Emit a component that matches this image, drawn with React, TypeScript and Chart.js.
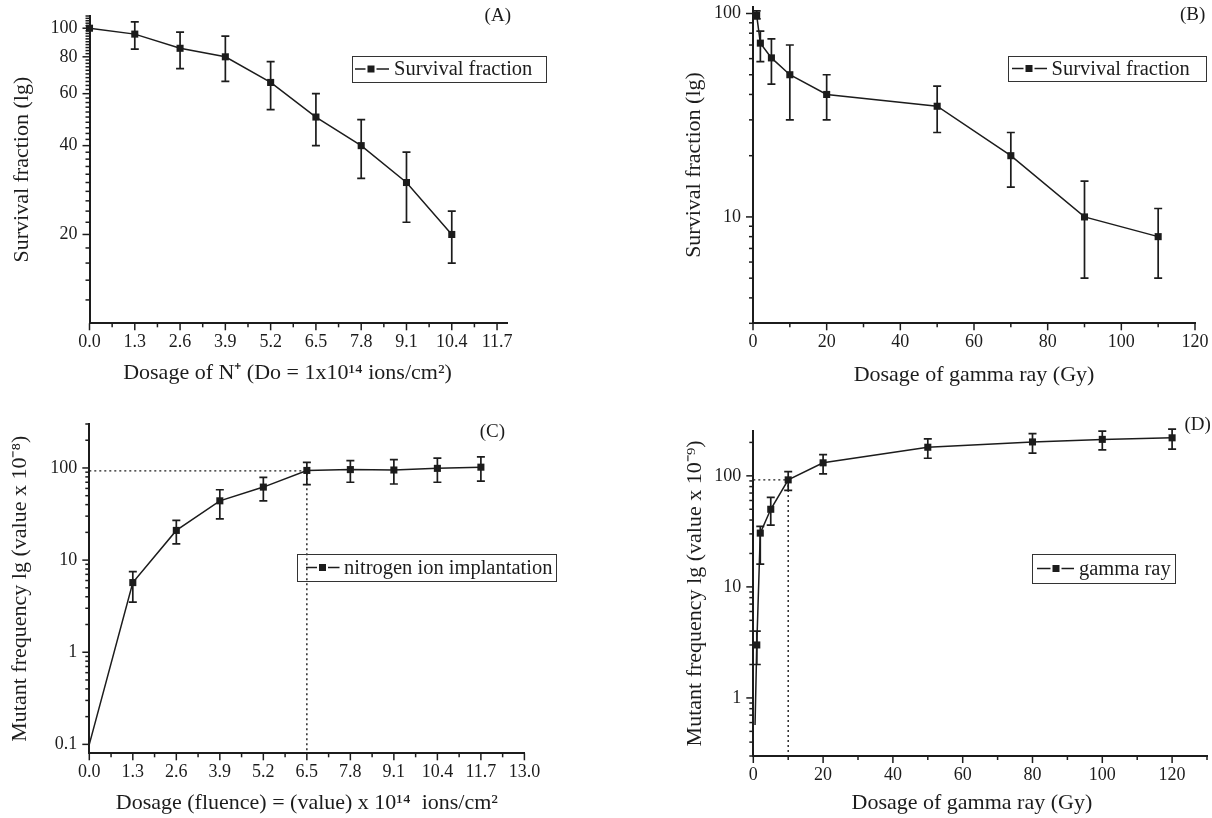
import React, { useEffect, useRef } from "react";
import { Chart, registerables } from "chart.js";

Chart.register(...registerables);

// ---------------- data ----------------
// (A) survival vs N+ dosage
const aDose = [0, 1.3, 2.6, 3.9, 5.2, 6.5, 7.8, 9.1, 10.4];
const aSurvival = [100, 95.5, 85.5, 80, 65.5, 50, 40, 30, 20];
const aSurvivalLow = [null, 85, 73, 66, 53, 40, 31, 22, 16];
const aSurvivalHigh = [null, 105, 97, 94, 77, 60, 49, 38, 24];
const aXTicks = [0, 1.3, 2.6, 3.9, 5.2, 6.5, 7.8, 9.1, 10.4, 11.7];
const aXMinor = [0.65, 1.95, 3.25, 4.55, 5.85, 7.15, 8.45, 9.75, 11.05];
const aYTicks = [20, 40, 60, 80, 100];
const aYMinor = [12, 14, 16, 18, 22, 24, 26, 28, 30, 32, 34, 36, 38, 42, 44, 46, 48, 50, 52, 54, 56, 58, 62, 64, 66, 68, 70, 72, 74, 76, 78, 82, 84, 86, 88, 90, 92, 94, 96, 98, 102, 104, 106, 108, 110];

// (B) survival vs gamma dosage
const bDose = [1, 2, 5, 10, 20, 50, 70, 90, 110];
const bSurvival = [98, 71.5, 60.5, 50, 40, 35, 20, 10, 8];
const bSurvivalLow = [94, 58, 45, 30, 30, 26, 14, 5, 5];
const bSurvivalHigh = [103, 82, 75, 70, 50, 44, 26, 15, 11];
const bXTicks = [0, 20, 40, 60, 80, 100, 120];
const bXMinor = [10, 30, 50, 70, 90, 110];
const bYTicks = [10, 100];
const bYMinor = [3, 4, 5, 6, 7, 8, 9, 20, 30, 40, 50, 60, 70, 80, 90];

// (C) mutant frequency vs N+ fluence
const cDose = [0, 1.3, 2.6, 3.9, 5.2, 6.5, 7.8, 9.1, 10.4, 11.7];
const cMutant = [0.1, 5.7, 21, 44, 62, 94, 96, 95, 99, 102];
const cMutantLow = [null, 3.5, 15, 28, 44, 66, 70, 67, 70, 72];
const cMutantHigh = [null, 7.5, 27, 58, 79, 115, 120, 123, 128, 132];
const cXTicks = [0, 1.3, 2.6, 3.9, 5.2, 6.5, 7.8, 9.1, 10.4, 11.7, 13.0];
const cXMinor = [0.65, 1.95, 3.25, 4.55, 5.85, 7.15, 8.45, 9.75, 11.05, 12.35];
const cYTicks = [0.1, 1, 10, 100];
const cYMinor = [0.2, 0.3, 0.4, 0.5, 0.6, 0.7, 0.8, 0.9, 2, 3, 4, 5, 6, 7, 8, 9, 20, 30, 40, 50, 60, 70, 80, 90, 200, 300];
const cGuide = { x: 6.5, y: 93 };

// (D) mutant frequency vs gamma dosage
const dDose = [0.5, 1, 2, 5, 10, 20, 50, 80, 100, 120];
const dMutant = [0.57, 3.0, 30.5, 50, 92, 131, 181, 202, 213, 220];
const dMutantLow = [null, 2.0, 16, 36, 74, 104, 144, 160, 171, 174];
const dMutantHigh = [null, 4.0, 35, 64, 109, 155, 215, 240, 253, 264];
const dXTicks = [0, 20, 40, 60, 80, 100, 120];
const dXMinor = [10, 30, 50, 70, 90, 110, 130];
const dYTicks = [1, 10, 100];
const dYMinor = [0.3, 0.4, 0.5, 0.6, 0.7, 0.8, 0.9, 2, 3, 4, 5, 6, 7, 8, 9, 20, 30, 40, 50, 60, 70, 80, 90, 200];
const dGuide = { x: 10, y: 92 };

// ---------------- style ----------------
const INK = "#1c1c1c";
const FAMILY = '"Liberation Serif", "Times New Roman", Times, serif';
const TICK_SIZE = 18;
const TITLE_SIZE = 22;
const LEGEND_SIZE = 20.5;
const TAG_SIZE = 19;

type Panel = {
  canvasBox: [number, number, number, number];
  area: [number, number, number, number];
  xRange: [number, number];
  yRange: [number, number];
  xTicks: number[];
  xMinor: number[];
  yTicks: number[];
  yMinor: number[];
  xDigits: number;
  xTitle: string;
  yTitle: string;
  xTitleY: number;
  yTitleX: number;
  xs: number[];
  ys: number[];
  lo: (number | null)[];
  hi: (number | null)[];
  hidden: number[];
  guide: { x: number; y: number } | null;
  legendBox: [number, number, number, number];
  legendSample: [number, number, number];
  legendTextX: number;
  legendText: string;
  tag: string;
  tagPos: [number, number];
};

const panels: Panel[] = [
  {
    canvasBox: [0, 0, 606, 402],
    area: [89.5, 16, 507.5, 323.3],
    xRange: [0, 12],
    yRange: [10, 110],
    xTicks: aXTicks,
    xMinor: aXMinor,
    yTicks: aYTicks,
    yMinor: aYMinor,
    xDigits: 1,
    xTitle: "Dosage of N\u207A (Do = 1x10\u00B9\u2074 ions/cm\u00B2)    ",
    yTitle: "Survival fraction (lg)",
    xTitleY: 373,
    yTitleX: 22.5,
    xs: aDose,
    ys: aSurvival,
    lo: aSurvivalLow,
    hi: aSurvivalHigh,
    hidden: [],
    guide: null,
    legendBox: [352, 56, 546, 82],
    legendSample: [355, 371, 389],
    legendTextX: 394,
    legendText: "Survival fraction",
    tag: "(A)",
    tagPos: [497.8, 16],
  },
  {
    canvasBox: [606, 0, 606, 402],
    area: [753, 6.7, 1195, 323.3],
    xRange: [0, 120],
    yRange: [3, 108],
    xTicks: bXTicks,
    xMinor: bXMinor,
    yTicks: bYTicks,
    yMinor: bYMinor,
    xDigits: 0,
    xTitle: "Dosage of gamma ray (Gy)",
    yTitle: "Survival fraction (lg)",
    xTitleY: 375,
    yTitleX: 694,
    xs: bDose,
    ys: bSurvival,
    lo: bSurvivalLow,
    hi: bSurvivalHigh,
    hidden: [],
    guide: null,
    legendBox: [1008, 56, 1206, 81],
    legendSample: [1012, 1029, 1047],
    legendTextX: 1051.5,
    legendText: "Survival fraction",
    tag: "(B)",
    tagPos: [1192.6, 15],
  },
  {
    canvasBox: [0, 404, 606, 414],
    area: [89.3, 424, 524.4, 753.3],
    xRange: [0, 13],
    yRange: [0.08, 300],
    xTicks: cXTicks,
    xMinor: cXMinor,
    yTicks: cYTicks,
    yMinor: cYMinor,
    xDigits: 1,
    xTitle: "Dosage (fluence) = (value) x 10\u00B9\u2074  ions/cm\u00B2",
    yTitle: "Mutant frequency lg (value x 10\u207B\u2078)",
    xTitleY: 803,
    yTitleX: 20.6,
    xs: cDose,
    ys: cMutant,
    lo: cMutantLow,
    hi: cMutantHigh,
    hidden: [0],
    guide: cGuide,
    legendBox: [297, 554, 556, 581],
    legendSample: [306, 322.5, 339.5],
    legendTextX: 344,
    legendText: "nitrogen ion implantation",
    tag: "(C)",
    tagPos: [492.3, 432],
  },
  {
    canvasBox: [606, 404, 606, 414],
    area: [753.3, 430.7, 1208, 756],
    xRange: [0, 130],
    yRange: [0.3, 255],
    xTicks: dXTicks,
    xMinor: dXMinor,
    yTicks: dYTicks,
    yMinor: dYMinor,
    xDigits: 0,
    xTitle: "Dosage of gamma ray (Gy)   ",
    yTitle: "Mutant frequency lg (value x 10\u207B\u2079)",
    xTitleY: 803,
    yTitleX: 695.7,
    xs: dDose,
    ys: dMutant,
    lo: dMutantLow,
    hi: dMutantHigh,
    hidden: [0],
    guide: dGuide,
    legendBox: [1032, 554, 1175, 583],
    legendSample: [1037, 1056, 1074],
    legendTextX: 1079,
    legendText: "gamma ray",
    tag: "(D)",
    tagPos: [1197.6, 425],
  },
];

function makeDecor(p: Panel) {
  return {
    id: "panelDecor",
    afterDatasetsDraw(chart: any) {
      const ctx = chart.ctx as CanvasRenderingContext2D;
      const xs = chart.scales.x;
      const ys = chart.scales.y;
      ctx.save();
      ctx.strokeStyle = INK;
      ctx.lineWidth = 1.7;
      p.xs.forEach((xv, i) => {
        const lo = p.lo[i];
        const hi = p.hi[i];
        if (lo == null || hi == null) return;
        const px = xs.getPixelForValue(xv);
        const pl = ys.getPixelForValue(lo);
        const ph = ys.getPixelForValue(hi);
        ctx.beginPath();
        ctx.moveTo(px, pl);
        ctx.lineTo(px, ph);
        ctx.moveTo(px - 4, pl);
        ctx.lineTo(px + 4, pl);
        ctx.moveTo(px - 4, ph);
        ctx.lineTo(px + 4, ph);
        ctx.stroke();
      });
      ctx.restore();
    },
    afterDraw(chart: any) {
      const ctx = chart.ctx as CanvasRenderingContext2D;
      const xs = chart.scales.x;
      const ys = chart.scales.y;
      const ox = p.canvasBox[0];
      const oy = p.canvasBox[1];
      ctx.save();
      ctx.strokeStyle = INK;
      ctx.lineWidth = 1.5;
      const axisY = xs.top;
      const axisX = ys.right;
      const tick = (x1: number, y1: number, x2: number, y2: number) => {
        ctx.beginPath();
        ctx.moveTo(x1, y1);
        ctx.lineTo(x2, y2);
        ctx.stroke();
      };
      p.xTicks.forEach((v) => {
        const px = xs.getPixelForValue(v);
        tick(px, axisY, px, axisY + 7);
      });
      p.xMinor.forEach((v) => {
        const px = xs.getPixelForValue(v);
        tick(px, axisY, px, axisY + 4);
      });
      p.yTicks.forEach((v) => {
        const py = ys.getPixelForValue(v);
        tick(axisX, py, axisX - 7, py);
      });
      p.yMinor.forEach((v) => {
        const py = ys.getPixelForValue(v);
        tick(axisX, py, axisX - 4, py);
      });

      // legend
      const [l, t, r, b] = p.legendBox.map((v, i) => v - (i % 2 === 0 ? ox : oy));
      ctx.lineWidth = 1;
      ctx.strokeStyle = "#333";
      ctx.strokeRect(Math.round(l) + 0.5, Math.round(t) + 0.5, Math.round(r - l), Math.round(b - t));
      const cy = (t + b) / 2;
      const [s0, sq, s1] = p.legendSample.map((v) => v - ox);
      ctx.strokeStyle = INK;
      ctx.lineWidth = 1.6;
      ctx.beginPath();
      ctx.moveTo(s0, cy);
      ctx.lineTo(sq - 5.5, cy);
      ctx.moveTo(sq + 5.5, cy);
      ctx.lineTo(s1, cy);
      ctx.stroke();
      ctx.fillStyle = INK;
      ctx.fillRect(sq - 3.5, cy - 3.5, 7, 7);
      ctx.font = `${LEGEND_SIZE}px ${FAMILY}`;
      ctx.textAlign = "left";
      ctx.textBaseline = "middle";
      ctx.fillText(p.legendText, p.legendTextX - ox, cy + 1);

      // panel tag
      ctx.font = `${TAG_SIZE}px ${FAMILY}`;
      ctx.textAlign = "center";
      ctx.fillText(p.tag, p.tagPos[0] - ox, p.tagPos[1] - oy);
      ctx.restore();
    },
  };
}

function buildConfig(p: Panel): any {
  const [cx, cy, cw, ch] = p.canvasBox;
  const [L, T, R, B] = p.area;
  const yWidth = L - cx;
  const xHeight = cy + ch - B;
  const half = (TITLE_SIZE * 1.2) / 2;
  const xTitlePad = cy + ch - half - p.xTitleY;
  const yTitlePad = p.yTitleX - cx - half;

  const datasets: any[] = [
    {
      data: p.xs.map((x, i) => ({ x, y: p.ys[i] })),
      borderColor: INK,
      borderWidth: 1.5,
      backgroundColor: INK,
      pointStyle: "rect",
      pointRadius: p.xs.map((_, i) => (p.hidden.includes(i) ? 0 : 5)),
      pointBackgroundColor: INK,
      pointBorderColor: INK,
      pointBorderWidth: 0,
      tension: 0,
      clip: false,
      order: 0,
    },
  ];
  if (p.guide) {
    datasets.push({
      data: [
        { x: p.xRange[0], y: p.guide.y },
        { x: p.guide.x, y: p.guide.y },
        { x: p.guide.x, y: p.yRange[0] },
      ],
      borderColor: INK,
      borderWidth: 1.4,
      borderDash: [2, 3],
      pointRadius: 0,
      tension: 0,
      order: 1,
    });
  }

  const tickFont = { family: FAMILY, size: TICK_SIZE };
  const titleFont = { family: FAMILY, size: TITLE_SIZE };

  return {
    type: "line",
    data: { datasets },
    options: {
      responsive: false,
      animation: false,
      devicePixelRatio: 1,
      events: [],
      layout: {
        padding: { left: 0, top: T - cy, right: cx + cw - R, bottom: 0 },
      },
      plugins: {
        legend: { display: false },
        tooltip: { enabled: false },
      },
      scales: {
        x: {
          type: "linear",
          position: "bottom",
          min: p.xRange[0],
          max: p.xRange[1],
          afterBuildTicks: (s: any) => {
            s.ticks = p.xTicks.map((v) => ({ value: v }));
          },
          afterFit: (s: any) => {
            s.height = xHeight;
            s.paddingLeft = 0;
            s.paddingRight = 0;
          },
          ticks: {
            autoSkip: false,
            maxRotation: 0,
            minRotation: 0,
            padding: 8,
            color: INK,
            font: tickFont,
            callback: (v: number) => Number(v).toFixed(p.xDigits),
          },
          grid: { display: false, drawTicks: false },
          border: { display: true, width: 2, color: INK },
          title: {
            display: true,
            text: p.xTitle,
            color: INK,
            font: titleFont,
            padding: { top: 0, bottom: xTitlePad },
          },
        },
        y: {
          type: "logarithmic",
          position: "left",
          min: p.yRange[0],
          max: p.yRange[1],
          afterBuildTicks: (s: any) => {
            s.ticks = p.yTicks.map((v) => ({ value: v }));
          },
          afterFit: (s: any) => {
            s.width = yWidth;
            s.paddingTop = 0;
            s.paddingBottom = 0;
          },
          ticks: {
            autoSkip: false,
            padding: 12,
            color: INK,
            font: tickFont,
            callback: (v: number) => String(v),
          },
          grid: { display: false, drawTicks: false },
          border: { display: true, width: 2, color: INK },
          title: {
            display: true,
            text: p.yTitle,
            color: INK,
            font: titleFont,
            padding: { top: yTitlePad, bottom: 0 },
          },
        },
      },
    },
    plugins: [makeDecor(p)],
  };
}

function PanelChart({ p }: { p: Panel }) {
  const ref = useRef<HTMLCanvasElement>(null);
  useEffect(() => {
    if (!ref.current) return;
    const chart = new Chart(ref.current, buildConfig(p));
    return () => chart.destroy();
  }, [p]);
  const [x, y, w, h] = p.canvasBox;
  return (
    <canvas
      ref={ref}
      width={w}
      height={h}
      style={{ position: "absolute", left: x, top: y, width: w, height: h, display: "block" }}
    />
  );
}

export default function App() {
  return (
    <div
      style={{
        position: "fixed",
        left: 0,
        top: 0,
        width: 1212,
        height: 818,
        background: "#ffffff",
        overflow: "hidden",
      }}
    >
      {panels.map((p, i) => (
        <PanelChart key={i} p={p} />
      ))}
    </div>
  );
}
